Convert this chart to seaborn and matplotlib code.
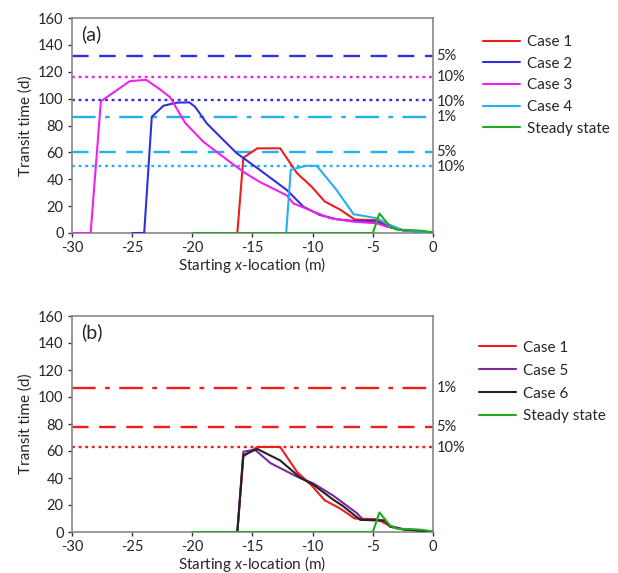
import matplotlib
matplotlib.use("Agg")
import matplotlib.pyplot as plt
import seaborn as sns
import pandas as pd
from matplotlib.lines import Line2D

sns.set_theme(style="white")
plt.rcParams['font.family'] = ['Lato', 'DejaVu Sans']
plt.rcParams['mathtext.fontset'] = 'custom'
plt.rcParams['mathtext.it'] = 'Lato:italic'
plt.rcParams['mathtext.rm'] = 'Lato'

# ---- data ----
case1_x = [-16.26, -15.76, -14.6, -12.7, -11.3, -10.1, -9.0, -7.7, -6.5, -4.67, -3.56, -2.5, -1, 0]
case1_y = [0, 56, 63, 63, 44.5, 34.6, 23.5, 17.3, 10, 9.5, 4.5, 2, 1, 0]
case2_x = [-25, -24.0, -23.37, -22.4, -21.3, -20.25, -19.78, -18.8, -17.7, -16.3, -14.4, -12.15, -10.77, -9.4, -8.0, -6.6, -4.67, -3.84, -2.5, -1, 0]
case2_y = [0, 0, 86.5, 94.7, 97, 97.2, 94, 81.6, 71.7, 59.3, 47, 32, 19.6, 13.4, 10.2, 9, 8.4, 5, 2, 1, 0]
case3_x = [-30, -28.45, -27.6, -25.2, -23.85, -22.7, -21.85, -20.6, -19.1, -16.6, -15.5, -14.4, -12.15, -11.6, -9.94, -8.55, -6.6, -4.67, -3.84, -2.5, -1, 0]
case3_y = [0, 0, 98, 113, 114, 107, 101, 82, 68, 51, 44, 38, 28, 22, 16, 11, 8.4, 7.2, 4.7, 2, 1, 0]
case4_x = [-12.2, -11.82, -10.6, -9.66, -8.1, -6.6, -4.67, -3.84, -2.5, -1, 0]
case4_y = [0, 47, 50, 50, 33, 14, 11, 7, 2, 1, 0]
case5_x = [-16.26, -15.76, -14.8, -13.5, -11.3, -9.94, -8.3, -6.33, -5.8, -4.0, -3.56, -2.5, -1, 0]
case5_y = [0, 59.5, 61, 51, 41, 36, 27, 14, 9, 8.5, 4, 2, 1, 0]
case6_x = [-16.26, -15.76, -14.6, -12.7, -11.0, -9.94, -8.3, -7.45, -6.05, -4.0, -3.56, -2.5, -1, 0]
case6_y = [0, 57, 61.5, 53, 40, 35, 24, 19, 9, 8.5, 4, 2, 1, 0]
steady_x = [-20, -5.0, -4.45, -3.56, -3.0, -1.35, -0.8, 0]
steady_y = [0, 0, 14.5, 4.7, 2.5, 1.9, 1.5, 0.3]

thr_a_vals = [132, 116, 99, 86, 60, 50]
thr_a_labels = ["5%", "10%", "10%", "1%", "5%", "10%"]
thr_b_vals = [107, 78, 63]
thr_b_labels = ["1%", "5%", "10%"]

xticks = [-30, -25, -20, -15, -10, -5, 0]
yticks = [0, 20, 40, 60, 80, 100, 120, 140, 160]

colors = {
    "Case 1": "#ee1c1c",
    "Case 2": "#3030dd",
    "Case 3": "#ee22ee",
    "Case 4": "#22b0ee",
    "Case 5": "#7a2a9e",
    "Case 6": "#222222",
    "Steady state": "#22aa22",
}

def make_df(series):
    rows = []
    for name, xs, ys in series:
        for x, y in zip(xs, ys):
            rows.append({"case": name, "x": x, "y": y})
    return pd.DataFrame(rows)

df_a = make_df([("Case 1", case1_x, case1_y), ("Case 2", case2_x, case2_y),
                ("Case 3", case3_x, case3_y), ("Case 4", case4_x, case4_y),
                ("Steady state", steady_x, steady_y)])
df_b = make_df([("Case 1", case1_x, case1_y), ("Case 5", case5_x, case5_y),
                ("Case 6", case6_x, case6_y), ("Steady state", steady_x, steady_y)])

W, H = 618, 573
fig = plt.figure(figsize=(W / 100, H / 100), dpi=100)
left, right = 72 / W, 433 / W
ax_a = fig.add_axes([left, 1 - 233 / H, right - left, (233 - 18) / H])
ax_b = fig.add_axes([left, 1 - 532 / H, right - left, (532 - 316) / H])

dash_long = (0, (7, 4.5))
dot = (0, (1.2, 1.6))
dashdot = (0, (10, 4, 2, 4))

thr_a_styles = [("Case 2", dash_long), ("Case 3", dot), ("Case 2", dot),
                ("Case 4", dashdot), ("Case 4", dash_long), ("Case 4", dot)]
thr_b_styles = [("Case 1", dashdot), ("Case 1", dash_long), ("Case 1", dot)]

def style_axes(ax, df, order, thr_vals, thr_labels, thr_styles, tag, label_offsets,
               leg_anchor, leg_spacing):
    for val, (c, ls) in zip(thr_vals, thr_styles):
        ax.axhline(val, color=colors[c], linestyle=ls, lw=1.7, zorder=1)
    sns.lineplot(data=df, x="x", y="y", hue="case", hue_order=order,
                 palette=colors, estimator=None, sort=False, lw=1.5,
                 legend=False, ax=ax, zorder=3)
    ax.set_xlim(-30, 0)
    ax.set_ylim(0, 160)
    ax.set_xticks(xticks)
    ax.set_yticks(yticks)
    ax.set_xticklabels([str(t) for t in xticks])
    ax.tick_params(axis="both", direction="out", length=3, width=1,
                   color="#333333", labelsize=10.5, bottom=True, left=True)
    ax.tick_params(axis="x", pad=3)
    ax.tick_params(axis="y", pad=3)
    for s in ax.spines.values():
        s.set_color("#888888")
        s.set_linewidth(1.2)
    ax.set_xlabel("Starting $\\mathit{x}$-location (m)", fontsize=11, labelpad=0)
    ax.set_ylabel("Transit time (d)", fontsize=11, labelpad=4)
    ax.text(0.025, 0.965, tag, transform=ax.transAxes, fontsize=14,
            va="top", ha="left")
    for val, lab, off in zip(thr_vals, thr_labels, label_offsets):
        ax.text(1.01, val + off, lab, transform=ax.get_yaxis_transform(),
                fontsize=10.5, va="center", ha="left", clip_on=False)
    handles = [Line2D([0], [0], color=colors[c], lw=1.5) for c in order]
    ax.legend(handles, order, loc="upper left", bbox_to_anchor=leg_anchor,
              frameon=False, fontsize=11, handlelength=2.4, handletextpad=0.5,
              labelspacing=leg_spacing, borderpad=0, borderaxespad=0)

style_axes(ax_a, df_a, ["Case 1", "Case 2", "Case 3", "Case 4", "Steady state"],
           thr_a_vals, thr_a_labels, thr_a_styles, "(a)", [0, 0, -1.5, 0, 0, -1],
           (1.1385, 0.92), 0.5)
style_axes(ax_b, df_b, ["Case 1", "Case 5", "Case 6", "Steady state"],
           thr_b_vals, thr_b_labels, thr_b_styles, "(b)", [0, 0, -1],
           (1.127, 0.885), 0.58)

fig.savefig("out.png", dpi=100)
